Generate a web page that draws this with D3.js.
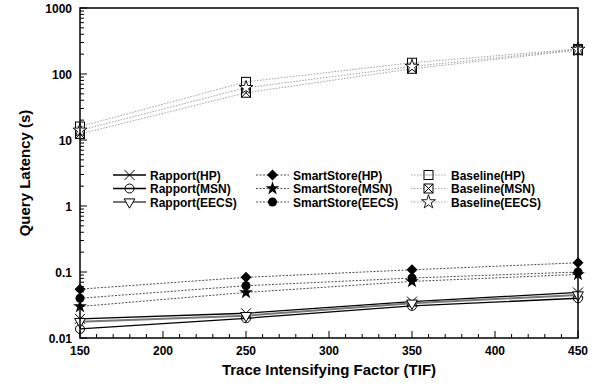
<!DOCTYPE html>
<html>
<head>
<meta charset="utf-8">
<script src="https://cdn.jsdelivr.net/npm/d3@7"></script>
<style>
  body { margin: 0; background: #fff; }
  svg text { font-family: "Liberation Sans", Arial, sans-serif; font-weight: bold; }
</style>
</head>
<body>
<div id="chart"></div>
<script>
// Data
const tif = [150, 250, 350, 450];

const rapportHP = [0.0195, 0.0237, 0.0356, 0.049];
const rapportMSN = [0.0137, 0.0199, 0.0306, 0.040];
const rapportEECS = [0.0177, 0.0218, 0.0337, 0.045];

const smartHP = [0.055, 0.083, 0.108, 0.138];
const smartMSN = [0.030, 0.049, 0.072, 0.092];
const smartEECS = [0.040, 0.062, 0.081, 0.100];

const baseHP = [16, 76, 148, 240];
const baseMSN = [12.3, 52, 120, 230];
const baseEECS = [14, 62, 130, 235];

const yTicks = [0.01, 0.1, 1, 10, 100, 1000];
const yTickLabels = ["0.01", "0.1", "1", "10", "100", "1000"];
const xTicks = [150, 200, 250, 300, 350, 400, 450];

const seriesNames = [
  "Rapport(HP)", "Rapport(MSN)", "Rapport(EECS)",
  "SmartStore(HP)", "SmartStore(MSN)", "SmartStore(EECS)",
  "Baseline(HP)", "Baseline(MSN)", "Baseline(EECS)"
];
const seriesValues = [rapportHP, rapportMSN, rapportEECS, smartHP, smartMSN, smartEECS, baseHP, baseMSN, baseEECS];

// Set up dimensions
const width = 607;
const height = 389;
const margin = {top: 8, right: 29, bottom: 51, left: 80};

const svg = d3.select('#chart')
  .append('svg')
  .attr('width', width)
  .attr('height', height);

const x = d3.scaleLinear().domain([150, 450]).range([margin.left, width - margin.right]);
const y = d3.scaleLog().domain([0.01, 1000]).range([height - margin.bottom, margin.top]);

// line styles per family
const styleOf = i => {
  if (i < 3) return {stroke: i === 2 ? "#777" : "#000", width: i === 2 ? 2 : 1.3, dash: null};
  if (i < 6) return {stroke: "#222", width: 0.8, dash: "2,1.5"};
  return {stroke: "#888", width: 0.8, dash: "1.5,1.5"};
};

// marker drawing
function drawMarker(g, i, cx, cy) {
  const m = g.append("g").attr("transform", `translate(${cx},${cy})`);
  const r = 5;
  switch (i) {
    case 0: // X
      m.append("path").attr("d", `M${-r},${-r}L${r},${r}M${-r},${r}L${r},${-r}`)
        .attr("stroke", "#000").attr("stroke-width", 1).attr("fill", "none");
      break;
    case 1: // open circle
      m.append("circle").attr("r", 4.5).attr("fill", "none").attr("stroke", "#000").attr("stroke-width", 1);
      break;
    case 2: // open triangle down
      m.append("path").attr("d", d3.symbol(d3.symbolTriangle, 50)())
        .attr("transform", "rotate(180)")
        .attr("fill", "#fff").attr("stroke", "#000").attr("stroke-width", 1);
      break;
    case 3: // filled diamond
      m.append("path").attr("d", `M0,${-5.5}L5.5,0L0,5.5L-5.5,0Z`).attr("fill", "#000");
      break;
    case 4: // filled star
      m.append("path").attr("d", d3.symbol(d3.symbolStar, 60)()).attr("fill", "#000");
      break;
    case 5: // filled circle
      m.append("circle").attr("r", 4.5).attr("fill", "#000");
      break;
    case 6: // open square with bar
      m.append("rect").attr("x", -4.5).attr("y", -4.5).attr("width", 9).attr("height", 9)
        .attr("fill", "#fff").attr("stroke", "#000").attr("stroke-width", 1);
      m.append("path").attr("d", "M-4.5,0L4.5,0").attr("stroke", "#888").attr("stroke-width", 0.6);
      break;
    case 7: // square with X
      m.append("rect").attr("x", -4.5).attr("y", -4.5).attr("width", 9).attr("height", 9)
        .attr("fill", "#fff").attr("stroke", "#000").attr("stroke-width", 1);
      m.append("path").attr("d", "M-4.5,-4.5L4.5,4.5M-4.5,4.5L4.5,-4.5").attr("stroke", "#000").attr("stroke-width", 1);
      break;
    case 8: // open star
      m.append("path").attr("d", d3.symbol(d3.symbolStar, 60)())
        .attr("fill", "#fff").attr("stroke", "#000").attr("stroke-width", 0.9);
      break;
  }
}

// axes with inward ticks
const bottomY = height - margin.bottom;
const minorX = d3.range(150, 451, 10);
svg.append("g").selectAll("line").data(minorX).enter().append("line")
  .attr("x1", d => x(d)).attr("x2", d => x(d))
  .attr("y1", bottomY).attr("y2", d => bottomY - (d % 50 === 0 ? 7 : 4))
  .attr("stroke", "#000").attr("stroke-width", 1);

const minorY = [];
[0.01, 0.1, 1, 10, 100].forEach(dec => {
  for (let k = 2; k <= 9; k++) minorY.push(dec * k);
});
svg.append("g").selectAll("line").data(minorY).enter().append("line")
  .attr("x1", margin.left).attr("x2", margin.left + 4)
  .attr("y1", d => y(d)).attr("y2", d => y(d))
  .attr("stroke", "#000").attr("stroke-width", 1);
svg.append("g").selectAll("line").data(yTicks).enter().append("line")
  .attr("x1", margin.left).attr("x2", margin.left + 7)
  .attr("y1", d => y(d)).attr("y2", d => y(d))
  .attr("stroke", "#000").attr("stroke-width", 1);

// tick labels
svg.append("g").selectAll("text").data(xTicks).enter().append("text")
  .attr("x", d => x(d)).attr("y", bottomY + 17)
  .attr("text-anchor", "middle").attr("font-size", 12)
  .text(d => d);
svg.append("g").selectAll("text").data(yTicks).enter().append("text")
  .attr("x", margin.left - 8).attr("y", d => y(d) + 4.5)
  .attr("text-anchor", "end").attr("font-size", 12)
  .text((d, i) => yTickLabels[i]);

// axis titles
svg.append("text")
  .attr("x", (margin.left + width - margin.right) / 2).attr("y", 375)
  .attr("text-anchor", "middle").attr("font-size", 15)
  .text("Trace Intensifying Factor (TIF)");
svg.append("text")
  .attr("transform", `translate(30,${(margin.top + bottomY) / 2}) rotate(-90)`)
  .attr("text-anchor", "middle").attr("font-size", 15)
  .text("Query Latency (s)");

// series lines
const line = d3.line().x((d, j) => x(tif[j])).y(d => y(d));
const plot = svg.append("g");
seriesValues.forEach((vals, i) => {
  const s = styleOf(i);
  plot.append("path").datum(vals)
    .attr("d", line)
    .attr("fill", "none")
    .attr("stroke", s.stroke)
    .attr("stroke-width", s.width)
    .attr("stroke-dasharray", s.dash);
});

// frame
svg.append("rect")
  .attr("x", margin.left).attr("y", margin.top)
  .attr("width", width - margin.left - margin.right)
  .attr("height", bottomY - margin.top)
  .attr("fill", "none").attr("stroke", "#000").attr("stroke-width", 1.5);

// markers
seriesValues.forEach((vals, i) => {
  vals.forEach((v, j) => drawMarker(plot, i, x(tif[j]), y(v)));
});

// legend
const legCols = [{x1: 113, x2: 146, tx: 150}, {x1: 256, x2: 289, tx: 293}, {x1: 411, x2: 446, tx: 451}];
const legRows = [175, 188.5, 202];
const legend = svg.append("g");
seriesNames.forEach((name, i) => {
  const c = legCols[Math.floor(i / 3)];
  const ry = legRows[i % 3];
  const s = styleOf(i);
  legend.append("line")
    .attr("x1", c.x1).attr("x2", c.x2).attr("y1", ry).attr("y2", ry)
    .attr("stroke", s.stroke).attr("stroke-width", s.width).attr("stroke-dasharray", s.dash);
  drawMarker(legend, i, (c.x1 + c.x2) / 2, ry);
  legend.append("text")
    .attr("x", c.tx).attr("y", ry + 4.5)
    .attr("font-size", 12)
    .text(name);
});
</script>
</body>
</html>
